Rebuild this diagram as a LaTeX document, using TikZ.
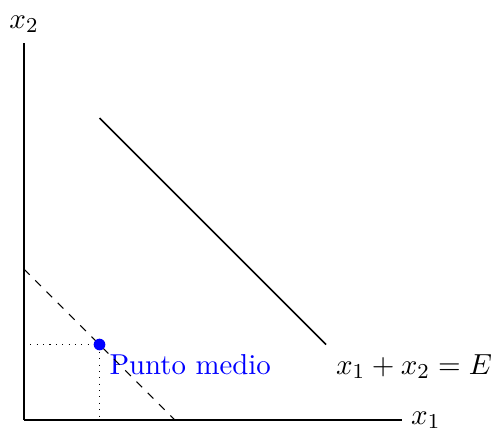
\documentclass[tikz,border=0pt]{standalone}
\begin{document}
\begin{tikzpicture}[
  every node/.style={font=\fontsize{10.85}{13}\selectfont},
  axis/.style={semithick},
  budget/.style={semithick},
  mid/.style={dashed},
  guide/.style={dotted},
  lbl/.style={inner sep=3.6pt}
]
\useasboundingbox (-0.318,-0.106) rectangle (6.238,5.563);
\coordinate (O) at (0,0);
\coordinate (X) at (5,0);
\coordinate (Y) at (0,5);
\draw[axis] (O) -- (X) node[right] {$x_1$};
\draw[axis] (O) -- (Y) node[above] {$x_2$};
\coordinate (A) at (1,4);
\coordinate (B) at (4,1);
\draw[budget] (A) -- (B);
\node[lbl,anchor=north west] (E) at (B) {$x_1+x_2=E$};
\coordinate (C) at (0,2);
\coordinate (D) at (2,0);
\coordinate (P) at (1,1);
\coordinate (Px) at (1,0);
\coordinate (Py) at (0,1);
\node[lbl,anchor=north west,text=blue] (PM) at (P) {Punto medio};
\draw[mid] (C) -- (D);
\draw[guide] (Py) -- (P) -- (Px);
\fill[blue] (P) circle (2.2pt);
\end{tikzpicture}
\end{document}
